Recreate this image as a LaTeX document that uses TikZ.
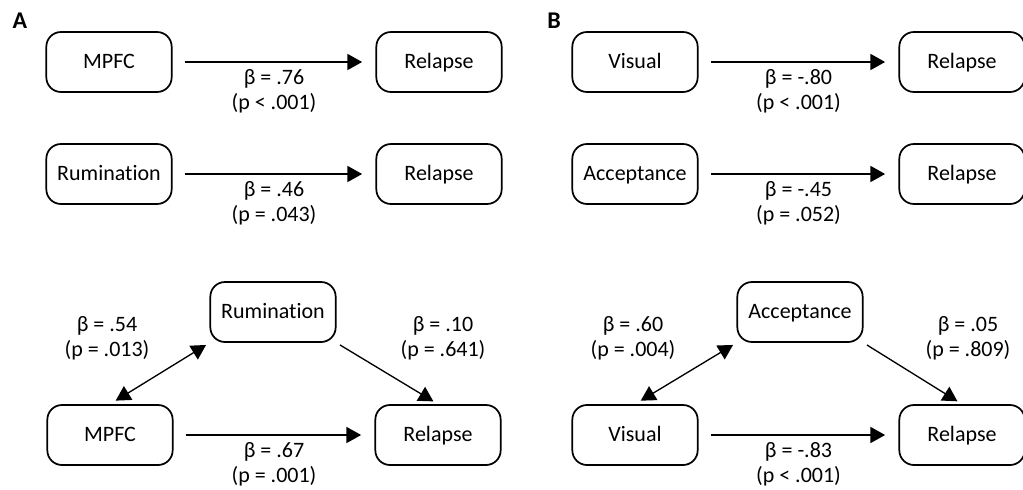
\documentclass[tikz,border=0pt]{standalone}
\usepackage{fontspec}
\setmainfont[Ligatures={NoCommon}]{Carlito}
\usetikzlibrary{arrows.meta}

\tikzset{
  var/.style={draw, line width=1.3pt, rounded corners=11pt, minimum width=94pt,
    minimum height=45pt, inner sep=0pt, text height=12pt, text depth=2pt,
    font=\fontsize{16.5}{18}\selectfont},
  path/.style={line width=1pt, -{Triangle[length=11pt,width=12pt]},
    shorten <=9pt, shorten >=10pt},
  bipath/.style={line width=1pt, {Triangle[length=11pt,width=12pt]}-{Triangle[length=11pt,width=12pt]}},
  coef/.style={align=center, inner sep=1pt, font=\fontsize{16.5}{18.5}\selectfont},
  panel/.style={font=\fontsize{18}{18}\selectfont\bfseries}
}

\begin{document}
\begin{tikzpicture}[x=0.75pt, y=-0.75pt]
\useasboundingbox (0,0) rectangle (1023,489);

% Panel A: MPFC, rumination and relapse
\node[panel] (labA) at (20,21) {A};
\node[var] (mA1) at (109,62) {MPFC};
\node[var] (rA1) at (439,62) {Relapse};
\draw[path] (mA1) -- (rA1) node[midway, below=4pt, coef] {β = .76\\(p < .001)};

\node[var] (uA2) at (109,174) {Rumination};
\node[var] (rA2) at (439,174) {Relapse};
\draw[path] (uA2) -- (rA2) node[midway, below=4pt, coef] {β = .46\\(p = .043)};

\node[var] (uA3) at (273,312) {Rumination};
\node[var] (mA3) at (110,435) {MPFC};
\node[var] (rA3) at (438,435) {Relapse};
\draw[path] (mA3) -- (rA3) node[midway, below=4pt, coef] {β = .67\\(p = .001)};
\draw[bipath, shorten <=5pt, shorten >=3pt] (mA3.north) -- (uA3.south west);
\draw[path, shorten <=3pt, shorten >=4pt] (uA3.south east) -- (rA3.north);
\node[coef] (cA1) at (107,338) {β = .54\\(p = .013)};
\node[coef] (cA2) at (443,338) {β = .10\\(p = .641)};

% Panel B: visual, acceptance and relapse
\begin{scope}[shift={(525,0)}]
\node[panel] (labB) at (29,21) {B};
\node[var] (vB1) at (110,62) {Visual};
\node[var] (rB1) at (437,62) {Relapse};
\draw[path] (vB1) -- (rB1) node[midway, below=4pt, coef] {β = -.80\\(p < .001)};

\node[var] (aB2) at (110,174) {Acceptance};
\node[var] (rB2) at (437,174) {Relapse};
\draw[path] (aB2) -- (rB2) node[midway, below=4pt, coef] {β = -.45\\(p = .052)};

\node[var] (aB3) at (275,312) {Acceptance};
\node[var] (vB3) at (110,435) {Visual};
\node[var] (rB3) at (437,435) {Relapse};
\draw[path] (vB3) -- (rB3) node[midway, below=4pt, coef] {β = -.83\\(p < .001)};
\draw[bipath, shorten <=5pt, shorten >=3pt] (vB3.north) -- (aB3.south west);
\draw[path, shorten <=3pt, shorten >=4pt] (aB3.south east) -- (rB3.north);
\node[coef] (cB1) at (108,338) {β = .60\\(p = .004)};
\node[coef] (cB2) at (443,338) {β = .05\\(p = .809)};
\end{scope}
\end{tikzpicture}
\end{document}
